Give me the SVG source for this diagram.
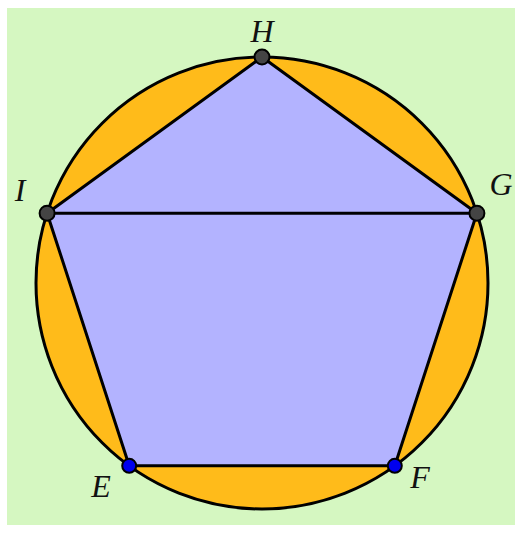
<svg xmlns="http://www.w3.org/2000/svg" width="515" height="533" viewBox="0 0 515 533">
<style>
.lbl{font-family:"Liberation Serif","DejaVu Serif",serif;font-style:italic;font-size:32px;fill:#111}
.edge{stroke:#000;stroke-width:3;fill:none;stroke-linecap:round}
.pt{stroke:#000;stroke-width:2}
</style>
<rect x="0" y="0" width="515" height="533" fill="#fff"/>
<rect x="7" y="8" width="508" height="517" fill="#d5f7c1"/>
<g id="circle">
<circle cx="262" cy="283" r="226" fill="#ffbb1a" stroke="#000" stroke-width="3"/>
</g>
<g id="pentagon">
<polygon points="262,57 476.9,213.2 394.8,465.8 129.2,465.8 47.1,213.2" fill="#b3b3ff"/>
</g>
<g id="connectors">
<line class="edge" x1="262" y1="57" x2="476.9" y2="213.2"/>
<line class="edge" x1="476.9" y1="213.2" x2="394.8" y2="465.8"/>
<line class="edge" x1="394.8" y1="465.8" x2="129.2" y2="465.8"/>
<line class="edge" x1="129.2" y1="465.8" x2="47.1" y2="213.2"/>
<line class="edge" x1="47.1" y1="213.2" x2="262" y2="57"/>
<line class="edge" x1="47.1" y1="213.2" x2="476.9" y2="213.2"/>
</g>
<g id="H"><circle class="pt" cx="262" cy="57" r="7.5" fill="#444"/><text class="lbl" x="262" y="42" text-anchor="middle">H</text></g>
<g id="G"><circle class="pt" cx="476.9" cy="213.2" r="7.5" fill="#444"/><text class="lbl" x="501" y="195" text-anchor="middle">G</text></g>
<g id="I"><circle class="pt" cx="47.1" cy="213.2" r="7.5" fill="#444"/><text class="lbl" x="20" y="201" text-anchor="middle">I</text></g>
<g id="E"><circle class="pt" cx="129.2" cy="465.8" r="7" fill="#0000ee"/><text class="lbl" x="101" y="497" text-anchor="middle">E</text></g>
<g id="F"><circle class="pt" cx="394.8" cy="465.8" r="7" fill="#0000ee"/><text class="lbl" x="420" y="488" text-anchor="middle">F</text></g>
</svg>
